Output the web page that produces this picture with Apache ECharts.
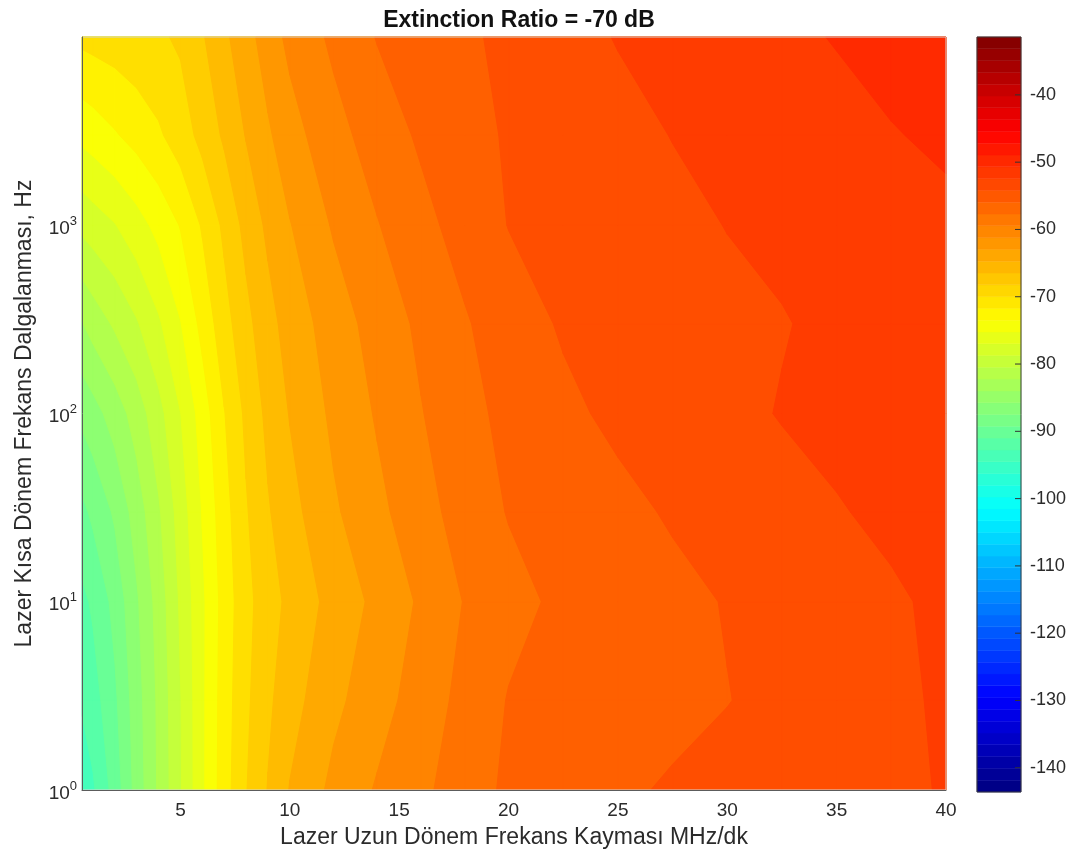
<!DOCTYPE html>
<html>
<head>
<meta charset="utf-8">
<title>Extinction Ratio = -70 dB</title>
<script src="https://cdn.jsdelivr.net/npm/echarts@6.0.0/dist/echarts.min.js"></script>
<style>
  html, body { margin: 0; padding: 0; background: #ffffff; }
  #chart { width: 1078px; height: 859px; }
</style>
</head>
<body>
<div id="chart"></div>
<script>
// Grid of the surface: frequency drift (MHz/dk) across, short-term fluctuation (Hz) up.
const driftMHz = [0.5, 1, 2, 3, 4, 5, 6, 7, 8, 9, 10, 12, 14, 16, 18, 20, 22.5, 25, 27.5, 30, 32.5, 35, 37.5, 40];
const fluctHz = [1, 3, 10, 30, 100, 300, 1000, 3000, 10000];

// Level in dB, one row per fluctHz entry, one value per driftMHz entry.
const levelAt1Hz     = [-93.0, -92.3, -89.2, -85.2, -81.7, -78.2, -74.4, -70.9, -68.1, -65.9, -63.9, -61.5, -59.8, -58.5, -56.8, -55.7, -55.0, -54.3, -53.8, -53.4, -53.0, -52.7, -52.3, -51.9];
const levelAt3Hz     = [-91.8, -90.9, -88.4, -84.9, -81.6, -78.1, -74.4, -71.0, -68.4, -66.4, -64.8, -62.5, -60.8, -59.1, -57.4, -55.9, -55.4, -55.0, -54.5, -54.05, -53.5, -52.9, -52.3, -51.8];
const levelAt10Hz    = [-90.5, -89.7, -87.4, -84.3, -81.2, -77.7, -74.4, -71.2, -68.6, -66.9, -65.5, -63.3, -61.5, -59.7, -57.9, -56.6, -55.6, -55.1, -54.5, -53.9, -53.3, -52.8, -52.2, -51.7];
const levelAt30Hz    = [-88.5, -87.6, -85.7, -83.1, -80.3, -77.1, -73.9, -70.8, -68.2, -66.2, -64.7, -62.3, -60.5, -58.8, -57.1, -55.9, -55.2, -54.5, -53.8, -53.2, -52.7, -52.1, -51.7, -51.3];
const levelAt100Hz   = [-85.5, -84.8, -83.1, -81.1, -78.7, -76.05, -73.1, -70.1, -67.6, -65.5, -63.9, -61.6, -59.8, -58.1, -56.6, -55.5, -54.4, -53.6, -53.1, -52.5, -51.9, -51.6, -51.2, -50.9];
const levelAt300Hz   = [-82.1, -81.2, -79.7, -78.2, -76.3, -74.1, -71.4, -68.8, -66.6, -64.7, -63.2, -61.0, -59.2, -57.6, -56.2, -54.9, -53.8, -53.4, -52.9, -52.5, -52.1, -51.6, -51.2, -50.8];
const levelAt1kHz    = [-77.5, -77.0, -76.1, -74.8, -73.4, -71.9, -69.8, -67.6, -65.4, -63.6, -62.1, -59.8, -58.1, -56.6, -55.2, -53.95, -53.5, -53.0, -52.5, -51.95, -51.6, -51.2, -50.8, -50.4];
const levelAt3kHz    = [-73.5, -73.1, -72.2, -71.3, -70.3, -69.0, -67.4, -65.7, -63.9, -62.3, -60.8, -58.7, -57.1, -55.7, -54.7, -53.8, -53.2, -52.6, -51.95, -51.5, -51.1, -50.6, -50.1, -49.7];
const levelAt10kHz   = [-69.5, -69.3, -69.0, -68.6, -68.3, -67.7, -66.2, -64.4, -62.8, -61.0, -59.5, -57.6, -55.9, -55.1, -54.3, -53.6, -52.7, -51.9, -51.4, -50.9, -50.4, -49.9, -49.4, -48.9];
const levelRows = [levelAt1Hz, levelAt3Hz, levelAt10Hz, levelAt30Hz, levelAt100Hz, levelAt300Hz, levelAt1kHz, levelAt3kHz, levelAt10kHz];

// Filled contour levels (dB) and colour limits of the colour bar.
const contourLevels = [-94, -92, -90, -88, -86, -84, -82, -80, -78, -76, -74, -72, -70, -68, -66, -64, -62, -60, -58, -56, -54, -52, -50, -48];
const colorMin = -143.6;
const colorMax = -31.4;
const colorTicks = [-140, -130, -120, -110, -100, -90, -80, -70, -60, -50, -40];
const driftTicks = [5, 10, 15, 20, 25, 30, 35, 40];

const FONT = '"Liberation Sans", Arial, Helvetica, sans-serif';
const TEXT = '#2b2b2b';

// Continuous jet colormap on [0, 1].
function jet(t) {
  const c = x => Math.max(0, Math.min(1, x));
  const r = c(Math.min(4 * t - 1.5, -4 * t + 4.5));
  const g = c(Math.min(4 * t - 0.5, -4 * t + 3.5));
  const b = c(Math.min(4 * t + 0.5, -4 * t + 2.5));
  return 'rgb(' + [r, g, b].map(x => Math.round(x * 255)).join(',') + ')';
}
function colorFor(value) {
  return jet((value - colorMin) / (colorMax - colorMin));
}

// Sutherland–Hodgman clip of a polygon whose vertices carry a value,
// keeping the part at or above a level; crossings are interpolated on edges.
function clipAbove(poly, level) {
  const out = [];
  for (let k = 0; k < poly.length; k++) {
    const a = poly[k], b = poly[(k + 1) % poly.length];
    const ina = a.v >= level, inb = b.v >= level;
    if (ina) out.push(a);
    if (ina !== inb) {
      const t = (level - a.v) / (b.v - a.v);
      out.push({ x: a.x + t * (b.x - a.x), y: a.y + t * (b.y - a.y), v: level });
    }
  }
  return out;
}

// One data item per contour level, drawn from the lowest level up:
// each item fills, in every grid cell, the region at or above its level.
const levelItems = contourLevels.map((L, k) => [driftMHz[0], fluctHz[0], k]);

function renderLevel(params, api) {
  const k = api.value(2);
  const level = contourLevels[k];
  const col = colorFor(level);
  const pts = levelRows.map((row, j) => row.map((v, i) => {
    const p = api.coord([driftMHz[i], fluctHz[j]]);
    return { x: p[0], y: p[1], v: v };
  }));
  const children = [];
  for (let j = 0; j < fluctHz.length - 1; j++) {
    for (let i = 0; i < driftMHz.length - 1; i++) {
      const quad = [pts[j][i], pts[j][i + 1], pts[j + 1][i + 1], pts[j + 1][i]];
      const poly = clipAbove(quad, level);
      if (poly.length < 3) continue;
      children.push({
        type: 'polygon',
        shape: { points: poly.map(p => [p.x, p.y]) },
        style: { fill: col, stroke: col, lineWidth: 1 }
      });
    }
  }
  return { type: 'group', children };
}

// Colour bar: 64 steps of the colormap plus the tick marks on its right edge.
const barSteps = [];
const barStep = (colorMax - colorMin) / 64;
for (let k = 0; k < 64; k++) barSteps.push([0.5, colorMin + (k + 0.5) * barStep, k]);

function renderBarStep(params, api) {
  const k = api.value(2);
  const v0 = colorMin + k * barStep, v1 = v0 + barStep;
  const p0 = api.coord([0, v0]);
  const p1 = api.coord([1, v1]);
  const col = colorFor((v0 + v1) / 2);
  return {
    type: 'rect',
    shape: { x: p0[0], y: p1[1], width: p1[0] - p0[0], height: p0[1] - p1[1] },
    style: { fill: col, stroke: col, lineWidth: 0.5 }
  };
}
function renderBarTick(params, api) {
  const p = api.coord([1, api.value(1)]);
  return {
    type: 'line',
    shape: { x1: p[0] - 6, y1: p[1], x2: p[0], y2: p[1] },
    style: { stroke: '#333333', lineWidth: 1 }
  };
}

const chart = echarts.init(document.getElementById('chart'), null, { renderer: 'canvas' });
chart.setOption({
  animation: false,
  backgroundColor: '#ffffff',
  title: {
    text: 'Extinction Ratio = -70 dB',
    left: 514,
    top: 4,
    textAlign: 'center',
    textStyle: { fontFamily: FONT, fontSize: 23, fontWeight: 'bold', color: '#111111' }
  },
  grid: [
    { left: 82, top: 37, width: 864, height: 753, show: true, backgroundColor: 'transparent',
      borderColor: '#d4d4d4', borderWidth: 1, z: 5 },
    { left: 977, top: 37, width: 44, height: 755, show: true, backgroundColor: 'transparent',
      borderColor: '#3a3a3a', borderWidth: 1, z: 5 }
  ],
  xAxis: [
    {
      gridIndex: 0, type: 'value', min: 0.5, max: 40, z: 6,
      axisLine: { show: true, onZero: false, lineStyle: { color: '#5c5c5c', width: 1 } },
      axisTick: { show: false },
      splitLine: { show: false },
      axisLabel: { customValues: driftTicks, fontFamily: FONT, fontSize: 19, color: TEXT, margin: 11 },
      name: 'Lazer Uzun Dönem Frekans Kayması MHz/dk',
      nameLocation: 'middle', nameGap: 36,
      nameTextStyle: { fontFamily: FONT, fontSize: 23, color: TEXT }
    },
    { gridIndex: 1, type: 'value', min: 0, max: 1, show: false }
  ],
  yAxis: [
    {
      gridIndex: 0, type: 'log', logBase: 10, min: 1, max: 10000, z: 6,
      axisLine: { show: true, onZero: false, lineStyle: { color: '#5c5c5c', width: 1 } },
      axisTick: { show: false },
      splitLine: { show: false },
      axisLabel: {
        showMaxLabel: false,
        margin: 5,
        formatter: v => '{b|10}{s|' + Math.round(Math.log10(v)) + '}',
        rich: {
          b: { fontFamily: FONT, fontSize: 19, color: TEXT, padding: [7, 0, 0, 0] },
          s: { fontFamily: FONT, fontSize: 13, color: TEXT, padding: [0, 0, 8, 0] }
        }
      },
      name: 'Lazer Kısa Dönem Frekans Dalgalanması, Hz',
      nameLocation: 'middle', nameGap: 46,
      nameTextStyle: { fontFamily: FONT, fontSize: 23, color: TEXT }
    },
    {
      gridIndex: 1, type: 'value', min: colorMin, max: colorMax, position: 'right', z: 6,
      axisLine: { show: false },
      axisTick: { show: false },
      splitLine: { show: false },
      axisLabel: { customValues: colorTicks, fontFamily: FONT, fontSize: 18, color: TEXT, margin: 9 }
    }
  ],
  series: [
    {
      type: 'custom', name: 'contour', coordinateSystem: 'cartesian2d',
      xAxisIndex: 0, yAxisIndex: 0, silent: true, z: 2,
      encode: { x: 0, y: 1 },
      data: levelItems,
      renderItem: renderLevel
    },
    {
      type: 'custom', name: 'colorbar', coordinateSystem: 'cartesian2d',
      xAxisIndex: 1, yAxisIndex: 1, silent: true, z: 2,
      encode: { x: 0, y: 1 },
      data: barSteps,
      renderItem: renderBarStep
    },
    {
      type: 'custom', name: 'colorbar ticks', coordinateSystem: 'cartesian2d',
      xAxisIndex: 1, yAxisIndex: 1, silent: true, z: 3,
      encode: { x: 0, y: 1 },
      data: colorTicks.map(v => [1, v]),
      renderItem: renderBarTick
    }
  ]
});
</script>
</body>
</html>
